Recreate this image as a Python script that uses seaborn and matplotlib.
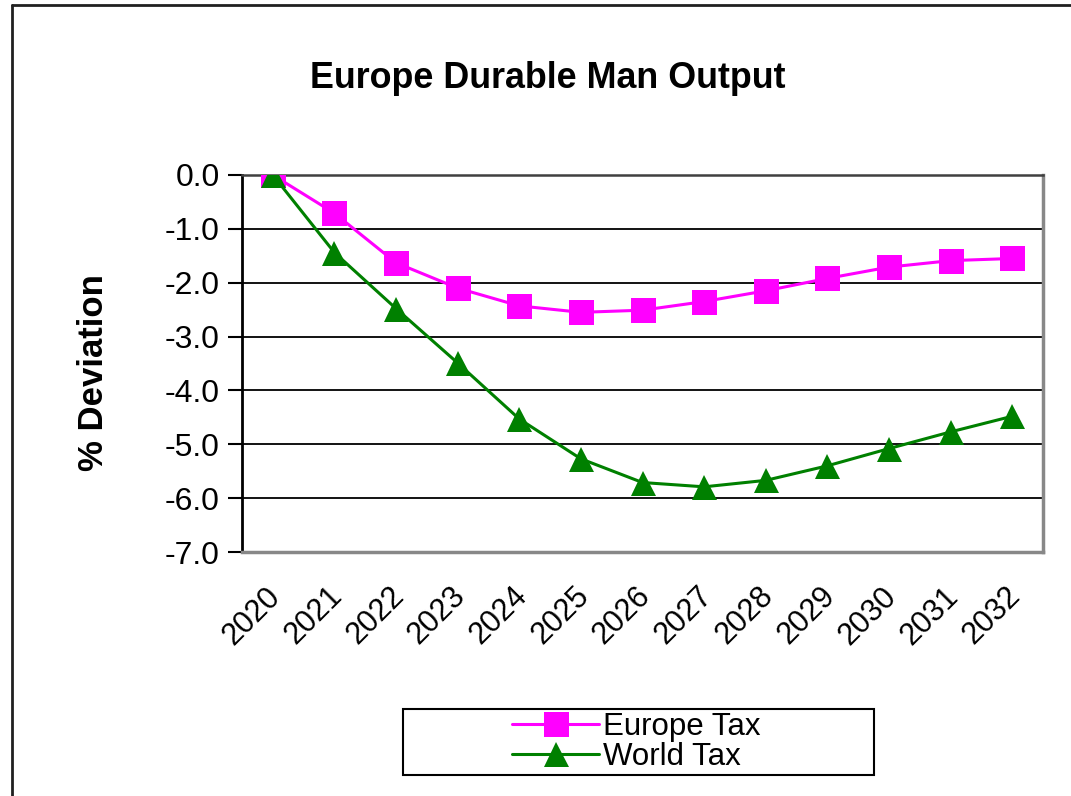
import matplotlib
matplotlib.use("Agg")
import matplotlib.pyplot as plt
import matplotlib.transforms as mtransforms
import seaborn as sns
import pandas as pd
from matplotlib.lines import Line2D
from matplotlib.patches import Rectangle

years = ["2020", "2021", "2022", "2023", "2024", "2025", "2026",
         "2027", "2028", "2029", "2030", "2031", "2032"]
europe_tax = [0.0, -0.71, -1.63, -2.10, -2.43, -2.55, -2.51,
              -2.35, -2.15, -1.92, -1.71, -1.59, -1.55]
world_tax = [0.0, -1.44, -2.48, -3.49, -4.53, -5.27, -5.71,
             -5.79, -5.67, -5.40, -5.08, -4.77, -4.48]
series_names = ["Europe Tax", "World Tax"]
y_ticks = [0.0, -1.0, -2.0, -3.0, -4.0, -5.0, -6.0, -7.0]

sns.set_theme(style="white")
plt.rcParams['font.family'] = ['Liberation Sans', 'DejaVu Sans']
plt.rcParams['text.color'] = 'black'
plt.rcParams['axes.labelcolor'] = 'black'
plt.rcParams['xtick.color'] = 'black'
plt.rcParams['ytick.color'] = 'black'

W, H = 1071, 796
fig = plt.figure(figsize=(W / 100, H / 100), dpi=100)
ax = fig.add_axes([242 / W, 1 - 552 / H, (1043 - 242) / W, (552 - 175) / H])

df_e = pd.DataFrame({"year": years, "value": europe_tax})
df_w = pd.DataFrame({"year": years, "value": world_tax})

sns.lineplot(data=df_e, x="year", y="value", ax=ax, color="#FF00FF",
             marker="s", markersize=18, linewidth=2.2, markeredgewidth=0,
             label=series_names[0], sort=False, zorder=3)
sns.lineplot(data=df_w, x="year", y="value", ax=ax, color="#008000",
             marker="^", markersize=18, linewidth=2.2, markeredgewidth=0,
             label=series_names[1], sort=False, zorder=4)

ax.set_xlim(-0.5, len(years) - 0.5)
ax.set_ylim(-7.0, 0.0)
ax.set_yticks(y_ticks)
ax.set_yticklabels([f"{v:.1f}" for v in y_ticks])
ax.yaxis.grid(True, color="black", linewidth=1.3)
ax.xaxis.grid(False)
ax.set_axisbelow(True)

ax.tick_params(axis="y", which="both", left=True, length=10, width=1.5,
               color="black", labelsize=23, pad=6, direction="out")
ax.tick_params(axis="x", bottom=False, labelsize=22, pad=15)
offset = mtransforms.ScaledTranslation(14 / 100, 0, fig.dpi_scale_trans)
for lab in ax.get_xticklabels():
    lab.set_rotation(45)
    lab.set_ha("right")
    lab.set_va("top")
    lab.set_rotation_mode("default")
    lab.set_transform(lab.get_transform() + offset)

ax.spines["left"].set_color("black")
ax.spines["left"].set_linewidth(2)
ax.spines["top"].set_color("#404040")
ax.spines["top"].set_linewidth(1.8)
ax.spines["right"].set_color("#888888")
ax.spines["right"].set_linewidth(2.5)
ax.spines["bottom"].set_color("#888888")
ax.spines["bottom"].set_linewidth(2.5)

ax.set_xlabel("")
ax.set_ylabel("% Deviation", fontsize=25, fontweight="bold")
ax.yaxis.set_label_coords(-0.165, 0.477)

fig.text(548 / W, 1 - 78 / H, "Europe Durable Man Output", ha="center",
         va="center", fontsize=25.8, fontweight="bold")

handles, labels = ax.get_legend_handles_labels()
ax.get_legend().remove()
leg = fig.legend(handles, labels, loc="center",
                 bbox_to_anchor=(636 / W, 1 - 742 / H), frameon=False,
                 fontsize=22.5, handlelength=2.8, handletextpad=0.1,
                 labelspacing=0.0, borderpad=0.1)

fig.patches.append(Rectangle((403 / W, 1 - 775 / H), (874 - 403) / W,
                             (775 - 709) / H, transform=fig.transFigure,
                             fill=False, edgecolor="black", linewidth=1.5))

fig.add_artist(Line2D([12 / W, 12 / W], [0, 1 - 5 / H], transform=fig.transFigure,
                      color="#202020", linewidth=2))
fig.add_artist(Line2D([12 / W, 1], [1 - 5 / H, 1 - 5 / H], transform=fig.transFigure,
                      color="#202020", linewidth=2))

fig.savefig("out.png", dpi=100)
